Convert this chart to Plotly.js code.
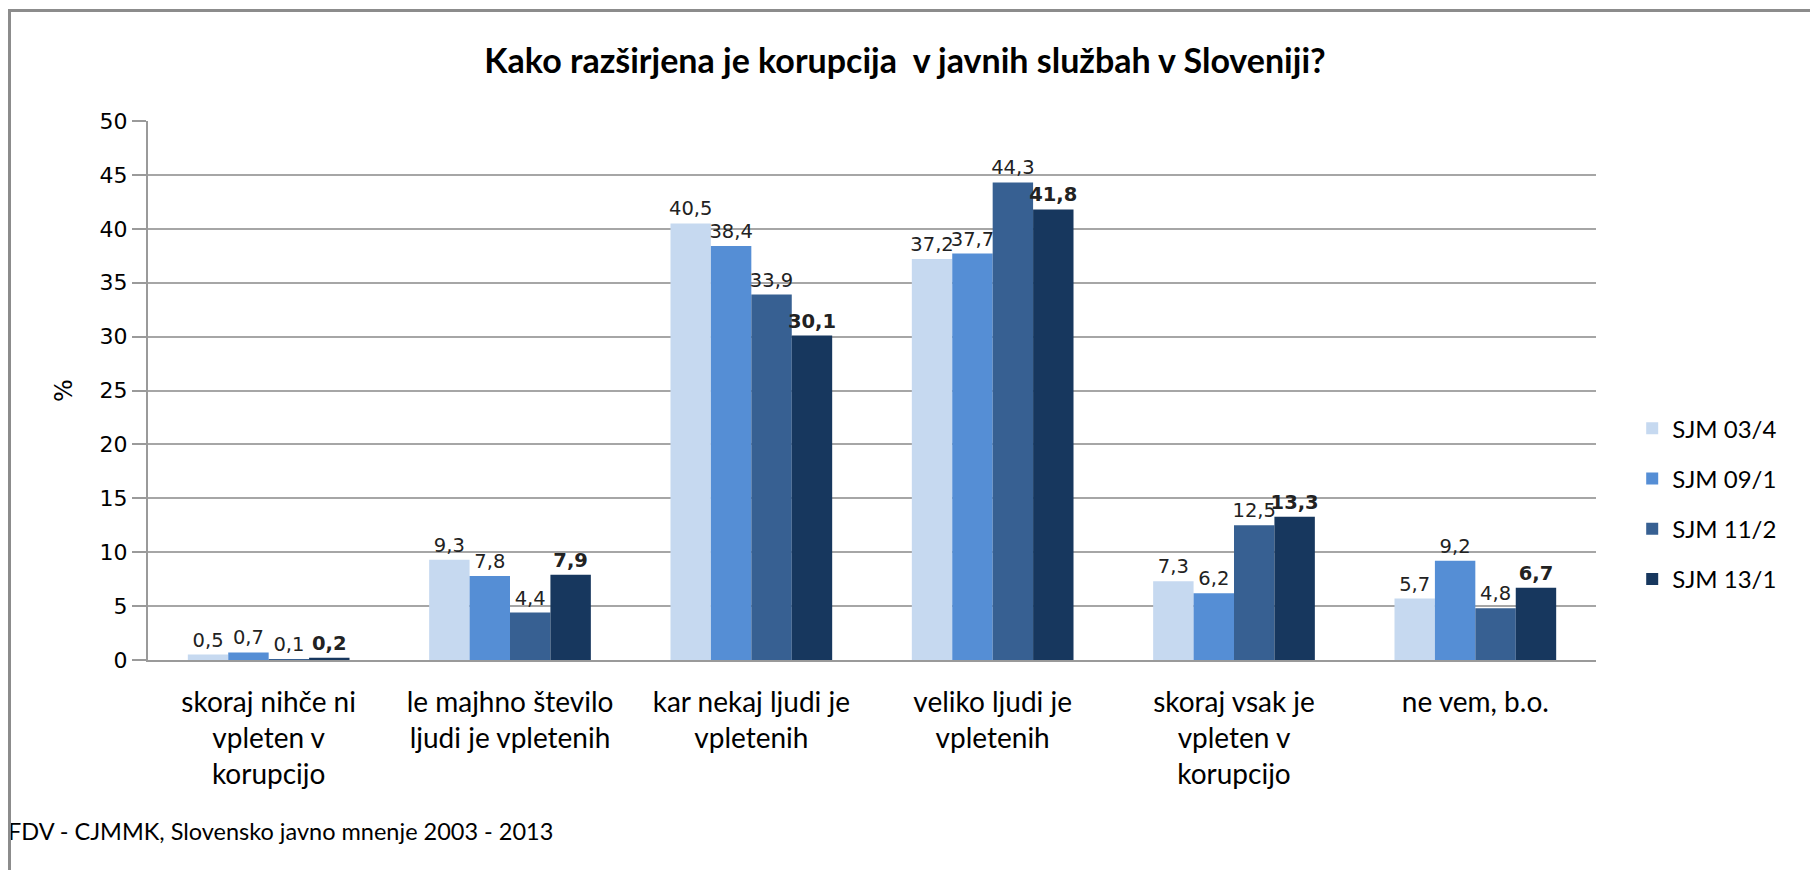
<!DOCTYPE html>
<html>
<head>
<meta charset="utf-8">
<script src="https://cdn.plot.ly/plotly-3.0.1.min.js"></script>
<style>
html,body{margin:0;padding:0;background:#fff;}
#wrap{position:relative;width:1810px;height:870px;overflow:hidden;}
#chart{position:absolute;left:0;top:0;width:1810px;height:870px;}
#frame{position:absolute;left:8px;top:9px;width:1820px;height:900px;border:3px solid #8c8c8c;box-sizing:border-box;pointer-events:none;}
</style>
</head>
<body>
<div id="wrap"><div id="chart"></div><div id="frame"></div></div>
<script>
const categories = [
  "skoraj nihče ni<br>vpleten v<br>korupcijo",
  "le majhno število<br>ljudi je vpletenih",
  "kar nekaj ljudi je<br>vpletenih",
  "veliko ljudi je<br>vpletenih",
  "skoraj vsak je<br>vpleten v<br>korupcijo",
  "ne vem, b.o."
];
const seriesNames = ["SJM 03/4", "SJM 09/1", "SJM 11/2", "SJM 13/1"];
const sjm03_4 = [0.5, 9.3, 40.5, 37.2, 7.3, 5.7];
const sjm09_1 = [0.7, 7.8, 38.4, 37.7, 6.2, 9.2];
const sjm11_2 = [0.1, 4.4, 33.9, 44.3, 12.5, 4.8];
const sjm13_1 = [0.2, 7.9, 30.1, 41.8, 13.3, 6.7];
const yTicks = [0, 5, 10, 15, 20, 25, 30, 35, 40, 45, 50];

const values = [sjm03_4, sjm09_1, sjm11_2, sjm13_1];
const colors = ["#C6D9F0", "#558ED5", "#376092", "#17375E"];

const traces = values.map((v, i) => ({
  type: "bar",
  name: seriesNames[i],
  x: categories,
  y: v,
  legendgroup: "g" + i,
  marker: {color: colors[i], line: {width: 0}},
  texttemplate: i === 3 ? "<b>%{y:.1f}</b>" : "%{y:.1f}",
  textposition: "outside",
  constraintext: "none",
  cliponaxis: false,
  textfont: {family: "DejaVu Sans", size: 19.5, color: "#222"},
  hoverinfo: "skip"
}));

const layout = {
  width: 1810, height: 870,
  separators: ", ",
  paper_bgcolor: "rgba(0,0,0,0)",
  plot_bgcolor: "#fff",
  margin: {l: 148, r: 214, t: 121, b: 210},
  barmode: "group",
  bargap: 0.33,
  bargroupgap: 0,
  font: {family: "Lato, 'Open Sans', sans-serif", color: "#000"},
  title: {
    text: "<b>Kako razširjena je korupcija  v javnih službah v Sloveniji?</b>",
    font: {family: "Lato", size: 34, color: "#000"},
    x: 0.5, xanchor: "center", y: 0.93, yanchor: "middle"
  },
  xaxis: {
    type: "category",
    showgrid: false,
    showline: true, linecolor: "#9a9a9a", linewidth: 2,
    ticks: "", ticklabelstandoff: 16,
    tickfont: {family: "Lato", size: 28, color: "#000"}
  },
  yaxis: {
    range: [0, 50],
    tickvals: yTicks,
    ticktext: yTicks.map(String),
    showgrid: true, gridcolor: "#a6a6a6", gridwidth: 2,
    showline: true, linecolor: "#9a9a9a", linewidth: 2,
    ticks: "outside", ticklen: 14, tickcolor: "#9a9a9a", tickwidth: 2,
    zeroline: false,
    tickfont: {family: "DejaVu Sans", size: 22, color: "#000"},
    title: {text: "%", font: {family: "DejaVu Sans", size: 24, color: "#000"}, standoff: 20}
  },
  legend: {
    x: 1.025, xanchor: "left", y: 0.29, yanchor: "middle",
    font: {family: "Lato", size: 24, color: "#000"},
    tracegroupgap: 16,
    itemwidth: 30,
    bgcolor: "rgba(0,0,0,0)"
  },
  annotations: [{
    text: "FDV - CJMMK, Slovensko javno mnenje 2003 - 2013",
    xref: "paper", yref: "paper",
    x: -142/1448, y: -(831 - 660)/539,
    xanchor: "left", yanchor: "middle",
    showarrow: false,
    font: {family: "Lato", size: 23.5, color: "#000"}
  }]
};

Plotly.newPlot("chart", traces, layout, {displayModeBar: false, staticPlot: true});
</script>
</body>
</html>
